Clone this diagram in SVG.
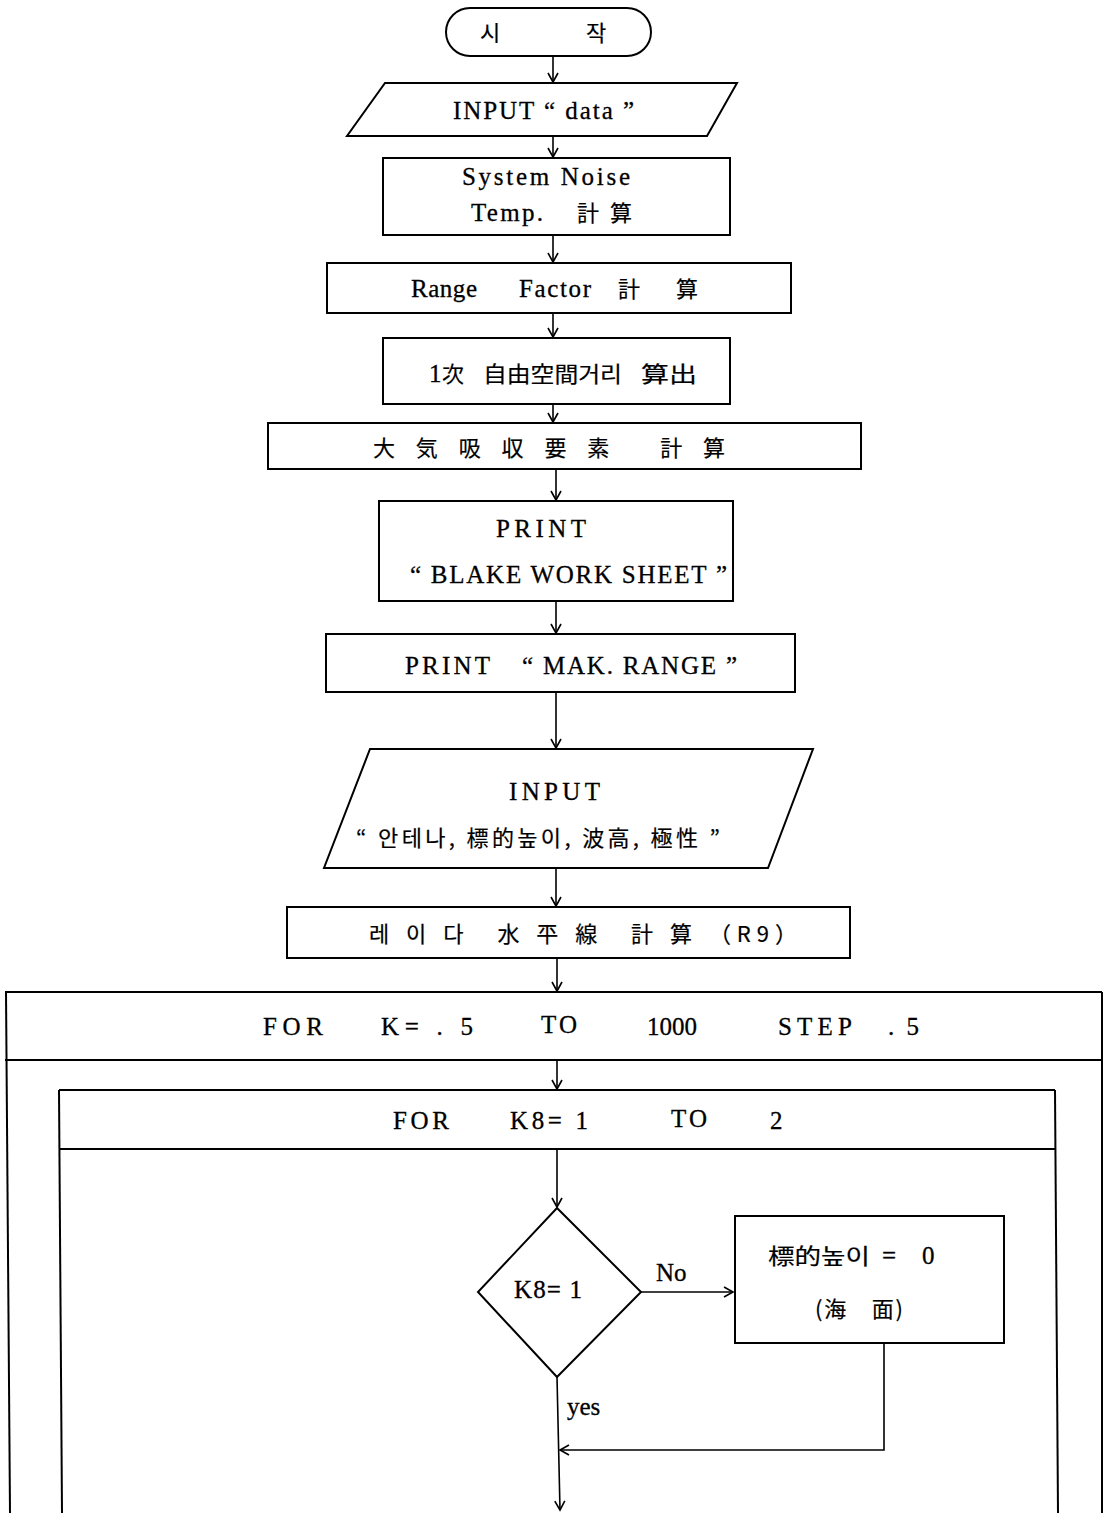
<svg xmlns="http://www.w3.org/2000/svg" width="1105" height="1513" viewBox="0 0 1105 1513">
<defs>
<marker id="ah" markerWidth="12" markerHeight="12" refX="10" refY="6" orient="auto" markerUnits="userSpaceOnUse">
<path d="M1,1 L10,6 L1,11" fill="none" stroke="#000" stroke-width="1.6"/>
</marker>
<style>
.s{fill:#fff;stroke:#000;stroke-width:2}
.l{fill:none;stroke:#000;stroke-width:2}
.c{fill:none;stroke:#000;stroke-width:1.6}
text{font-family:"Liberation Serif","Noto Serif CJK KR","Noto Sans CJK KR",serif;font-size:25px;fill:#000;stroke:#000;stroke-width:0.3}
.k{font-family:"Noto Sans CJK KR",sans-serif;font-size:22px;stroke-width:0.2}
.m{text-anchor:middle}
</style>
</defs>
<rect width="1105" height="1513" fill="#fff"/>

<g id="connectors">
<line class="c" x1="553" y1="56" x2="553" y2="82" marker-end="url(#ah)"/>
<line class="c" x1="553" y1="136" x2="553" y2="157" marker-end="url(#ah)"/>
<line class="c" x1="553" y1="235" x2="553" y2="262" marker-end="url(#ah)"/>
<line class="c" x1="553" y1="313" x2="553" y2="337" marker-end="url(#ah)"/>
<line class="c" x1="553" y1="404" x2="553" y2="422" marker-end="url(#ah)"/>
<line class="c" x1="556" y1="469" x2="556" y2="500" marker-end="url(#ah)"/>
<line class="c" x1="556" y1="601" x2="556" y2="633" marker-end="url(#ah)"/>
<line class="c" x1="556" y1="692" x2="556" y2="748" marker-end="url(#ah)"/>
<line class="c" x1="556" y1="868" x2="556" y2="906" marker-end="url(#ah)"/>
<line class="c" x1="557" y1="958" x2="557" y2="991" marker-end="url(#ah)"/>
<line class="c" x1="557" y1="1060" x2="557" y2="1089" marker-end="url(#ah)"/>
<line class="c" x1="557" y1="1149" x2="557" y2="1207" marker-end="url(#ah)"/>
<line class="c" x1="641" y1="1292" x2="733" y2="1292" marker-end="url(#ah)"/>
<polyline class="c" points="884,1343 884,1450 560,1450" marker-end="url(#ah)"/>
<line class="c" x1="557" y1="1377" x2="560" y2="1510" marker-end="url(#ah)"/>
<text x="656" y="1281">No</text>
<text x="567" y="1415">yes</text>
</g>

<g id="start">
<rect class="s" x="446" y="8" width="205" height="48" rx="24" ry="24"/>
<text class="k m" x="490" y="41">시</text>
<text class="k m" x="596" y="41">작</text>
</g>

<g id="input-data">
<polygon class="s" points="385,83 737,83 707,136 347,136"/>
<text x="453" y="119" textLength="181" lengthAdjust="spacing">INPUT “ data ”</text>
</g>

<g id="noise">
<rect class="s" x="383" y="158" width="347" height="77"/>
<text x="462" y="185" textLength="168" lengthAdjust="spacing">System  Noise</text>
<text x="471" y="221" textLength="72" lengthAdjust="spacing">Temp.</text>
<text class="k" x="577" y="221" textLength="55" lengthAdjust="spacing">計 算</text>
</g>

<g id="range">
<rect class="s" x="327" y="263" width="464" height="50"/>
<text x="411" y="297" textLength="66" lengthAdjust="spacing">Range</text>
<text x="519" y="297" textLength="72" lengthAdjust="spacing">Factor</text>
<text class="k" x="618" y="297">計</text>
<text class="k" x="676" y="297">算</text>
</g>

<g id="free-space">
<rect class="s" x="383" y="338" width="347" height="66"/>
<text x="429" y="382">1</text>
<text class="k" x="442" y="382">次</text>
<text class="k" x="483" y="382" textLength="139" lengthAdjust="spacingAndGlyphs">自由空間거리</text>
<text class="k" x="641" y="382" textLength="56" lengthAdjust="spacingAndGlyphs">算出</text>
</g>

<g id="absorption">
<rect class="s" x="268" y="423" width="593" height="46"/>
<text class="k" x="373" y="456" textLength="352" lengthAdjust="spacing">大 気 吸 収 要 素　 計 算</text>
</g>

<g id="print-blake">
<rect class="s" x="379" y="501" width="354" height="100"/>
<text x="496" y="537" textLength="90" lengthAdjust="spacing">PRINT</text>
<text x="410" y="583" textLength="317" lengthAdjust="spacing">“ BLAKE  WORK  SHEET ”</text>
</g>

<g id="print-range">
<rect class="s" x="326" y="634" width="469" height="58"/>
<text x="405" y="674" textLength="85" lengthAdjust="spacing">PRINT</text>
<text x="522" y="674" textLength="215" lengthAdjust="spacing">“ MAK. RANGE ”</text>
</g>

<g id="input-antenna">
<polygon class="s" points="370,749 813,749 768,868 324,868"/>
<text x="509" y="800" textLength="91" lengthAdjust="spacing">INPUT</text>
<text class="k" x="356" y="846" textLength="364" lengthAdjust="spacing">“ 안테나, 標的높이, 波高, 極性 ”</text>
</g>

<g id="horizon">
<rect class="s" x="287" y="907" width="563" height="51"/>
<text class="k" x="369" y="942" textLength="428" lengthAdjust="spacing">레 이 다　水 平 線　計 算 （R9）</text>
</g>

<g id="for-k">
<line class="l" x1="5" y1="992" x2="1102" y2="992"/>
<line class="l" x1="5" y1="1060" x2="1102" y2="1060"/>
<line class="l" x1="6" y1="992" x2="10" y2="1513"/>
<line class="l" x1="1102" y1="992" x2="1102" y2="1513"/>
<text x="263" y="1035" textLength="60" lengthAdjust="spacing">FOR</text>
<text x="381" y="1035" textLength="92" lengthAdjust="spacing">K= . 5</text>
<text x="541" y="1033" textLength="36" lengthAdjust="spacing">TO</text>
<text x="647" y="1035" textLength="50" lengthAdjust="spacing">1000</text>
<text x="778" y="1035" textLength="74" lengthAdjust="spacing">STEP</text>
<text x="888" y="1035" textLength="31" lengthAdjust="spacing">. 5</text>
</g>

<g id="for-k8">
<line class="l" x1="59" y1="1090" x2="1055" y2="1090"/>
<line class="l" x1="59" y1="1149" x2="1055" y2="1149"/>
<line class="l" x1="59" y1="1090" x2="62" y2="1513"/>
<line class="l" x1="1055" y1="1090" x2="1058" y2="1513"/>
<text x="393" y="1129" textLength="56" lengthAdjust="spacing">FOR</text>
<text x="510" y="1129" textLength="78" lengthAdjust="spacing">K8= 1</text>
<text x="671" y="1127" textLength="36" lengthAdjust="spacing">TO</text>
<text x="770" y="1129">2</text>
</g>

<g id="decision">
<polygon class="s" points="557,1208 641,1292 557,1377 478,1292"/>
<text x="514" y="1298" textLength="68" lengthAdjust="spacing">K8= 1</text>
</g>

<g id="target-zero">
<rect class="s" x="735" y="1216" width="269" height="127"/>
<text class="k" x="768" y="1264" textLength="102" lengthAdjust="spacingAndGlyphs">標的높이</text>
<text x="882" y="1264">=</text>
<text x="922" y="1264">0</text>
<text class="k" x="815" y="1317" textLength="88" lengthAdjust="spacing">(海　面)</text>
</g>
</svg>
